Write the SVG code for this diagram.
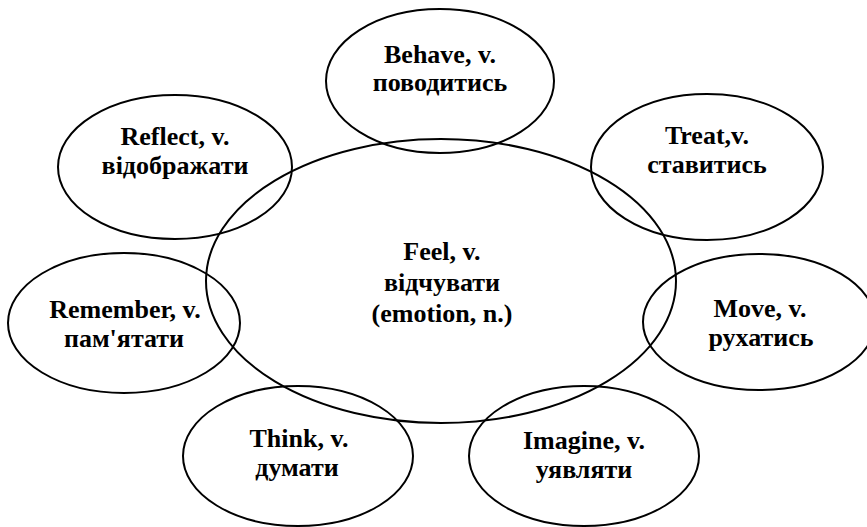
<svg xmlns="http://www.w3.org/2000/svg" width="867" height="527" viewBox="0 0 867 527" font-family="Liberation Serif">
<style>
.e{fill:none;stroke:#000;stroke-width:2}
text{font-family:Liberation Serif;font-weight:bold;font-size:26px;fill:#000;text-anchor:middle}
</style>
<rect width="867" height="527" fill="#fff"/>
<g id="feel"><ellipse class="e" cx="441" cy="281" rx="235" ry="142"/>
<text font-family="Liberation Serif" x="442" y="260">Feel, v.</text><text font-family="Liberation Serif" x="442" y="291">відчувати</text><text font-family="Liberation Serif" x="442" y="322">(emotion, n.)</text></g>
<g id="behave"><ellipse class="e" cx="440" cy="81" rx="114" ry="72"/>
<text font-family="Liberation Serif" x="440" y="63">Behave, v.</text><text font-family="Liberation Serif" x="440" y="91">поводитись</text></g>
<g id="reflect"><ellipse class="e" cx="175" cy="167" rx="117" ry="72"/>
<text font-family="Liberation Serif" x="175" y="145">Reflect, v.</text><text font-family="Liberation Serif" x="175" y="174">відображати</text></g>
<g id="treat"><ellipse class="e" cx="707" cy="167" rx="116" ry="73"/>
<text font-family="Liberation Serif" x="707" y="144">Treat,v.</text><text font-family="Liberation Serif" x="707" y="173">ставитись</text></g>
<g id="remember"><ellipse class="e" cx="124" cy="323" rx="116" ry="70"/>
<text font-family="Liberation Serif" x="125" y="318">Remember, v.</text><text font-family="Liberation Serif" x="124" y="347">пам'ятати</text></g>
<g id="move"><ellipse class="e" cx="759" cy="322" rx="116" ry="68"/>
<text font-family="Liberation Serif" x="760" y="317">Move, v.</text><text font-family="Liberation Serif" x="761" y="346">рухатись</text></g>
<g id="think"><ellipse class="e" cx="298" cy="456" rx="115" ry="70"/>
<text font-family="Liberation Serif" x="299" y="447">Think, v.</text><text font-family="Liberation Serif" x="297" y="476">думати</text></g>
<g id="imagine"><ellipse class="e" cx="584" cy="456" rx="115" ry="70"/>
<text font-family="Liberation Serif" x="584" y="449">Imagine, v.</text><text font-family="Liberation Serif" x="584" y="478">уявляти</text></g>
<g id="connectors"/>
</svg>
